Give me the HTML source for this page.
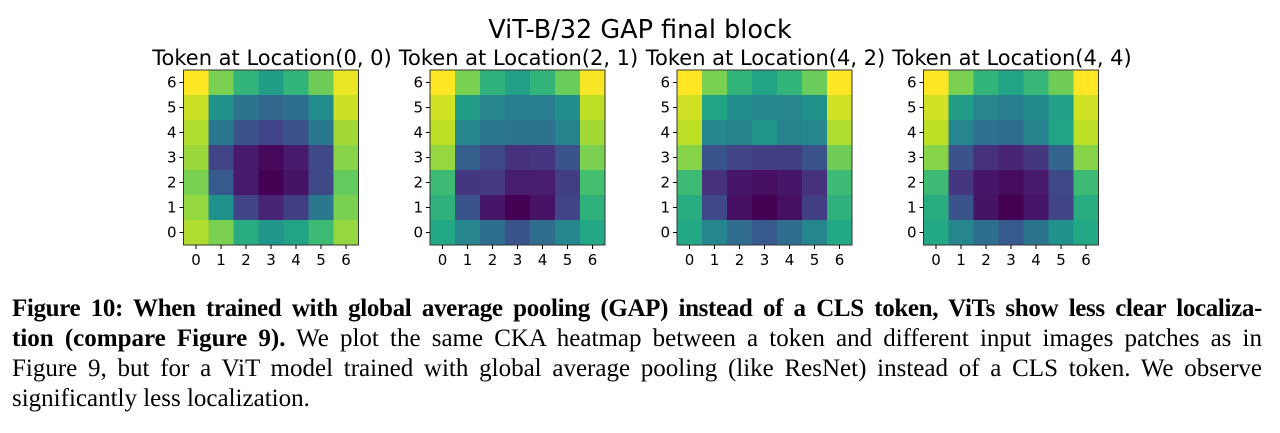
<!DOCTYPE html>
<html><head><meta charset="utf-8"><style>
body{margin:0;background:#fff;width:1280px;height:433px;overflow:hidden;position:relative}
svg{position:absolute;left:0;top:0}
.cap{position:absolute;left:12px;width:1250px;font-family:"Liberation Serif",serif;font-size:25px;line-height:30px;color:#000}
.ln{text-align:justify;text-align-last:justify;height:30px;white-space:nowrap;overflow:visible}
.ln.last{text-align-last:left}
b{font-weight:bold}
</style></head><body>
<svg id="fig" width="1280" height="280"></svg>
<div class="cap" style="top:294px">
<div class="ln" style="letter-spacing:-0.35px"><b>Figure 10: When trained with global average pooling (GAP) instead of a CLS token, ViTs show less clear localiza-</b></div>
<div class="ln"><b>tion (compare Figure 9).</b> We plot the same CKA heatmap between a token and different input images patches as in</div>
<div class="ln">Figure 9, but for a ViT model trained with global average pooling (like ResNet) instead of a CLS token. We observe</div>
<div class="ln last">significantly less localization.</div>
</div>
<script>
const titles=["Token at Location(0, 0)","Token at Location(2, 1)","Token at Location(4, 2)","Token at Location(4, 4)"];
const ticks=[0,1,2,3,4,5,6];
// rows listed top (y=6) to bottom (y=0)
const panel1=[[1.0,0.8,0.65,0.55,0.65,0.78,0.97],[0.92,0.5,0.38,0.33,0.36,0.48,0.92],[0.88,0.4,0.25,0.2,0.25,0.4,0.86],[0.85,0.2,0.07,0.02,0.07,0.22,0.82],[0.8,0.28,0.07,0.0,0.05,0.22,0.76],[0.84,0.5,0.2,0.1,0.18,0.4,0.8],[0.88,0.8,0.62,0.52,0.58,0.68,0.84]];
const panel2=[[1.0,0.8,0.64,0.56,0.65,0.77,0.99],[0.93,0.55,0.45,0.42,0.42,0.48,0.9],[0.9,0.46,0.4,0.38,0.38,0.44,0.86],[0.84,0.3,0.22,0.14,0.15,0.26,0.8],[0.68,0.16,0.17,0.08,0.08,0.18,0.7],[0.64,0.26,0.06,0.0,0.05,0.2,0.64],[0.6,0.45,0.36,0.26,0.35,0.46,0.6]];
const panel3=[[1.0,0.8,0.65,0.58,0.65,0.77,1.0],[0.93,0.58,0.48,0.46,0.45,0.5,0.93],[0.9,0.46,0.44,0.52,0.44,0.46,0.88],[0.82,0.26,0.2,0.18,0.18,0.26,0.78],[0.68,0.14,0.06,0.04,0.06,0.14,0.68],[0.62,0.22,0.04,0.0,0.04,0.18,0.64],[0.6,0.46,0.35,0.28,0.35,0.46,0.6]];
const panel4=[[1.0,0.8,0.65,0.58,0.66,0.78,1.0],[0.93,0.55,0.45,0.42,0.47,0.56,0.93],[0.9,0.46,0.37,0.35,0.44,0.58,0.9],[0.82,0.26,0.14,0.1,0.16,0.32,0.82],[0.68,0.16,0.06,0.03,0.07,0.22,0.68],[0.62,0.26,0.05,0.0,0.06,0.2,0.62],[0.6,0.46,0.36,0.28,0.38,0.5,0.6]];
const panels=[panel1,panel2,panel3,panel4];
const VIR=["#440154","#482475","#414487","#355f8d","#2a788e","#21918c","#22a884","#44bf70","#7ad151","#bddf26","#fde725"];
function hx(h){return [1,3,5].map(i=>parseInt(h.substr(i,2),16));}
function viridis(v){v=Math.max(0,Math.min(1,v));const p=v*10,i=Math.min(9,Math.floor(p)),t=p-i;const a=hx(VIR[i]),b=hx(VIR[i+1]);return "rgb("+a.map((c,k)=>Math.round(c+(b[k]-c)*t)).join(",")+")";}
const NS="http://www.w3.org/2000/svg";
const svg=document.getElementById('fig');
function mk(tag,attrs,parent){const e=document.createElementNS(NS,tag);for(const k in attrs)e.setAttribute(k,attrs[k]);(parent||svg).appendChild(e);return e;}
const t=mk('text',{x:640,y:38,'text-anchor':'middle','font-family':'DejaVu Sans, sans-serif','font-size':25.5,fill:'#000'});


t.textContent="ViT-B/32 GAP final block";
const lefts=[183.5,430,677,923.5],top0=70,size=175,cell=size/7;
function xs(i,L){return L+i*cell;}
function ys(j){return top0+(6-j)*cell;}
panels.forEach((data,p)=>{
  const L=lefts[p];
  const g=mk('g',{});
  
  
  const tt=mk('text',{x:L+size/2+1,y:65,'text-anchor':'middle','font-family':'DejaVu Sans, sans-serif','font-size':21,fill:'#000'},g);
  
  
  tt.textContent=titles[p];
  data.forEach((row,r)=>{const j=6-r;row.forEach((v,i)=>{
    const c=mk('rect',{x:xs(i,L),y:ys(j),width:cell+0.5,height:cell+0.5,fill:viridis(v)},g);
    
    
  });});
  mk('rect',{x:L,y:top0,width:size,height:size,fill:'none',stroke:'#333','stroke-width':1},g);
  ticks.forEach(k=>{
    const cx=xs(k,L)+cell/2,cy=ys(k)+cell/2;
    mk('line',{x1:cx,x2:cx,y1:top0+size,y2:top0+size+4,stroke:'#000'},g);
    const xl=mk('text',{x:cx,y:top0+size+20,'text-anchor':'middle','font-family':'DejaVu Sans, sans-serif','font-size':15,fill:'#000'},g);
    
    
    xl.textContent=k;
    mk('line',{x1:L-4,x2:L,y1:cy,y2:cy,stroke:'#000'},g);
    const yl=mk('text',{x:L-7,y:cy+5,'text-anchor':'end','font-family':'DejaVu Sans, sans-serif','font-size':15,fill:'#000'},g);
    
    
    yl.textContent=k;
  });
});
</script>
</body></html>
